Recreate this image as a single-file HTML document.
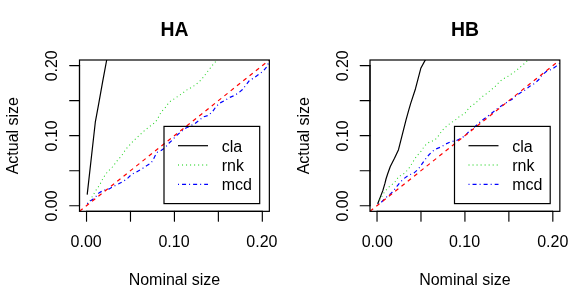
<!DOCTYPE html>
<html><head><meta charset="utf-8"><title>plot</title>
<style>
html,body{margin:0;padding:0;background:#fff;}
body{width:581px;height:291px;overflow:hidden;font-family:"Liberation Sans",sans-serif;}
svg{display:block;position:absolute;left:0;top:0;}
svg text{filter:grayscale(1);}
</style></head><body>
<svg width="581" height="291" viewBox="0 0 581 291">
<rect width="581" height="291" fill="#fff"/>
<clipPath id="c0"><rect x="79.50" y="60.00" width="189.85" height="151.35"/></clipPath>
<g clip-path="url(#c0)" fill="none" stroke-width="1.2" stroke-linecap="butt" stroke-linejoin="round">
<polyline points="87.2,194.6 95.3,122.2 98.5,104.8 102.7,81.3 106.7,60.0 107.0,58.5" stroke="#000"/>
<polyline points="87.2,203.8 89.6,201.5 91.4,197.9 93.4,195.0 95.0,191.6 97.4,188.2 99.7,184.9 101.5,181.3 103.5,177.6 105.6,174.3 108.1,171.2 111.2,168.4 113.7,165.5 116.0,162.2 118.6,158.9 121.4,156.2 123.5,152.9 125.6,149.5 128.4,146.4 131.0,143.6 133.9,140.5 136.7,137.7 139.6,135.1 142.6,132.2 145.7,129.6 148.9,127.0 152.2,124.7 155.3,122.2 157.4,119.1 159.4,115.4 161.5,111.5 164.3,108.9 166.6,105.8 169.1,102.2 172.3,100.1 175.4,98.1 178.8,95.7 182.4,93.4 185.5,90.8 188.8,88.8 192.4,87.0 195.7,84.6 198.7,82.1 201.5,79.5 204.1,76.2 206.6,72.8 209.1,69.7 211.5,66.4 214.1,63.3 216.9,60.2 218.0,59.0" stroke="#00cd00" stroke-opacity="0.85" stroke-width="1.05" stroke-dasharray="1.007 3.021"/>
<polyline points="87.2,203.6 90.3,201.0 95.3,197.4 98.8,193.0 103.4,190.4 109.2,188.9 113.7,186.3 118.7,183.8 123.4,181.3 128.0,177.9 131.4,174.6 136.5,171.9 141.5,169.1 146.2,166.0 150.8,163.2 152.9,160.3 154.4,157.2 156.0,154.1 157.5,152.1 161.1,150.5 165.3,147.4 168.9,143.3 172.6,139.7 176.5,135.6 180.8,131.9 185.5,128.3 190.1,126.0 194.8,123.7 199.4,120.1 203.3,116.9 208.4,115.4 212.6,111.5 215.7,107.1 219.3,103.3 224.4,100.7 228.9,97.8 234.0,95.7 238.4,93.0 242.5,89.5 245.7,85.4 249.3,80.7 254.4,77.6 258.6,74.5 263.2,71.2 266.8,66.8 268.9,62.1 269.6,60.3" stroke="#0000ff" stroke-dasharray="1.007 3.021 4.027 3.021"/>
<line x1="79.5" y1="211.3" x2="269.4" y2="60.0" stroke="#ff0000" stroke-dasharray="4.027 4.027"/>
</g>
<rect x="79.50" y="60.00" width="189.85" height="151.35" fill="none" stroke="#000" stroke-width="1.2"/>
<g stroke="#000" stroke-width="1.15" stroke-linecap="round" fill="none">
<line x1="86.53" y1="211.35" x2="86.53" y2="221.15"/>
<line x1="79.50" y1="205.74" x2="69.70" y2="205.74"/>
<line x1="130.48" y1="211.35" x2="130.48" y2="221.15"/>
<line x1="79.50" y1="170.71" x2="69.70" y2="170.71"/>
<line x1="174.43" y1="211.35" x2="174.43" y2="221.15"/>
<line x1="79.50" y1="135.68" x2="69.70" y2="135.68"/>
<line x1="218.37" y1="211.35" x2="218.37" y2="221.15"/>
<line x1="79.50" y1="100.64" x2="69.70" y2="100.64"/>
<line x1="262.32" y1="211.35" x2="262.32" y2="221.15"/>
<line x1="79.50" y1="65.61" x2="69.70" y2="65.61"/>
<line x1="86.53" y1="211.35" x2="262.32" y2="211.35"/>
<line x1="79.50" y1="205.74" x2="79.50" y2="65.61"/>
</g>
<g font-family="'Liberation Sans', sans-serif" font-size="16px" fill="#000" text-anchor="middle">
<text x="86.13" y="246.6">0.00</text>
<text transform="translate(56.70,205.94) rotate(-90)">0.00</text>
<text x="174.03" y="246.6">0.10</text>
<text transform="translate(56.70,135.88) rotate(-90)">0.10</text>
<text x="261.92" y="246.6">0.20</text>
<text transform="translate(56.70,65.81) rotate(-90)">0.20</text>
<text x="174.43" y="285.0">Nominal size</text>
<text transform="translate(17.70,135.68) rotate(-90)">Actual size</text>
<text x="174.62" y="36.4" font-weight="bold" font-size="19.4px">HA</text>
</g>
<rect x="164.00" y="126.40" width="95.70" height="77.20" fill="none" stroke="#000" stroke-width="1.2"/>
<g fill="none" stroke-width="1.2">
<line x1="178.0" y1="145.7" x2="208.0" y2="145.7" stroke="#000"/>
<line x1="178.0" y1="165.0" x2="208.0" y2="165.0" stroke="#00cd00" stroke-dasharray="1.007 3.021"/>
<line x1="178.0" y1="184.45" x2="208.0" y2="184.45" stroke="#0000ff" stroke-dasharray="1.007 3.021 4.027 3.021"/>
</g>
<g font-family="'Liberation Sans', sans-serif" font-size="16px" fill="#000">
<text x="221.7" y="151.6">cla</text>
<text x="221.7" y="170.9">rnk</text>
<text x="221.7" y="190.2">mcd</text>
</g>
<clipPath id="c290"><rect x="370.00" y="60.00" width="189.85" height="151.35"/></clipPath>
<g clip-path="url(#c290)" fill="none" stroke-width="1.2" stroke-linecap="butt" stroke-linejoin="round">
<polyline points="377.7,203.8 380.3,197.1 382.9,190.4 385.0,183.2 386.0,179.0 387.7,173.8 390.3,166.5 394.5,158.3 398.5,149.7 406.1,119.7 408.6,110.7 410.7,103.4 415.5,88.7 420.8,68.3 425.2,60.1 426.0,58.6" stroke="#000"/>
<polyline points="377.7,203.8 379.3,200.7 381.4,197.4 383.2,194.0 385.5,190.6 388.1,187.8 391.0,185.2 394.3,183.0 396.6,179.7 398.9,176.3 402.5,174.8 405.5,172.2 408.2,169.3 410.5,166.0 412.5,162.6 414.6,159.3 416.7,155.9 419.8,152.9 422.2,149.6 424.3,146.4 426.8,143.6 430.4,141.6 434.4,140.4 437.2,137.5 439.5,134.4 441.8,131.0 444.5,127.9 447.7,125.4 450.8,122.8 454.3,120.9 457.3,118.4 460.4,115.6 464.0,114.3 466.5,111.4 468.7,108.3 471.5,105.7 474.9,103.7 477.7,100.9 480.5,98.3 483.6,95.5 487.0,93.4 490.1,90.6 493.2,88.2 496.3,85.4 498.9,82.3 502.0,79.7 505.4,77.7 508.8,75.9 512.2,73.4 515.3,71.5 518.4,68.7 521.5,66.0 524.6,63.4 527.5,60.6 529.0,59.2" stroke="#00cd00" stroke-opacity="0.85" stroke-width="1.05" stroke-dasharray="1.007 3.021"/>
<polyline points="377.7,203.8 380.8,202.8 385.5,197.8 390.1,194.3 393.5,190.9 396.9,186.3 400.5,181.9 404.2,178.4 408.9,175.1 414.1,172.9 418.2,169.3 421.3,165.0 424.6,160.3 427.7,156.2 431.7,151.9 435.8,149.0 441.3,146.9 445.6,144.1 450.8,141.7 456.5,140.5 460.6,138.4 465.3,135.6 468.9,131.4 474.1,127.4 481.3,120.9 486.0,117.6 490.6,114.0 494.5,110.9 498.4,107.8 504.0,104.2 509.3,100.7 512.3,99.1 516.0,95.7 521.3,92.3 525.8,89.6 529.4,86.5 534.9,83.2 538.9,79.5 542.2,75.1 546.3,71.5 551.5,69.4 556.1,66.3 559.2,63.7 560.2,62.9" stroke="#0000ff" stroke-dasharray="1.007 3.021 4.027 3.021"/>
<line x1="370.0" y1="211.3" x2="559.9" y2="60.0" stroke="#ff0000" stroke-dasharray="4.027 4.027"/>
</g>
<rect x="370.00" y="60.00" width="189.85" height="151.35" fill="none" stroke="#000" stroke-width="1.2"/>
<g stroke="#000" stroke-width="1.15" stroke-linecap="round" fill="none">
<line x1="377.03" y1="211.35" x2="377.03" y2="221.15"/>
<line x1="370.00" y1="205.74" x2="360.20" y2="205.74"/>
<line x1="420.98" y1="211.35" x2="420.98" y2="221.15"/>
<line x1="370.00" y1="170.71" x2="360.20" y2="170.71"/>
<line x1="464.93" y1="211.35" x2="464.93" y2="221.15"/>
<line x1="370.00" y1="135.68" x2="360.20" y2="135.68"/>
<line x1="508.87" y1="211.35" x2="508.87" y2="221.15"/>
<line x1="370.00" y1="100.64" x2="360.20" y2="100.64"/>
<line x1="552.82" y1="211.35" x2="552.82" y2="221.15"/>
<line x1="370.00" y1="65.61" x2="360.20" y2="65.61"/>
<line x1="377.03" y1="211.35" x2="552.82" y2="211.35"/>
<line x1="370.00" y1="205.74" x2="370.00" y2="65.61"/>
</g>
<g font-family="'Liberation Sans', sans-serif" font-size="16px" fill="#000" text-anchor="middle">
<text x="377.28" y="246.6">0.00</text>
<text transform="translate(347.70,205.94) rotate(-90)">0.00</text>
<text x="464.53" y="246.6">0.10</text>
<text transform="translate(347.70,135.88) rotate(-90)">0.10</text>
<text x="552.72" y="246.6">0.20</text>
<text transform="translate(347.70,65.81) rotate(-90)">0.20</text>
<text x="464.93" y="285.0">Nominal size</text>
<text transform="translate(308.70,135.68) rotate(-90)">Actual size</text>
<text x="465.12" y="36.4" font-weight="bold" font-size="19.4px">HB</text>
</g>
<rect x="454.50" y="126.40" width="95.70" height="77.20" fill="none" stroke="#000" stroke-width="1.2"/>
<g fill="none" stroke-width="1.2">
<line x1="468.5" y1="145.7" x2="498.5" y2="145.7" stroke="#000"/>
<line x1="468.5" y1="165.0" x2="498.5" y2="165.0" stroke="#00cd00" stroke-dasharray="1.007 3.021"/>
<line x1="468.5" y1="184.45" x2="498.5" y2="184.45" stroke="#0000ff" stroke-dasharray="1.007 3.021 4.027 3.021"/>
</g>
<g font-family="'Liberation Sans', sans-serif" font-size="16px" fill="#000">
<text x="512.2" y="151.6">cla</text>
<text x="512.2" y="170.9">rnk</text>
<text x="512.2" y="190.2">mcd</text>
</g>
</svg>
</body></html>
